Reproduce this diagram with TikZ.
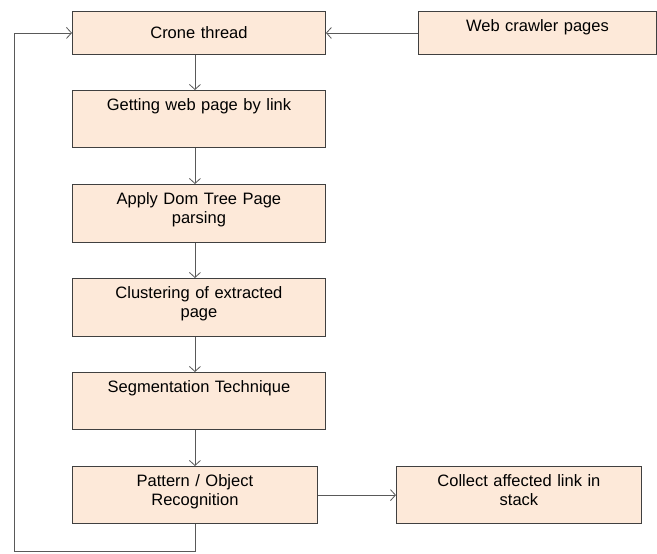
\documentclass[tikz,border=0pt]{standalone}
\usepackage{fontspec}
\setmainfont{Liberation Sans}
\usetikzlibrary{arrows.meta}
\definecolor{boxfill}{RGB}{253,233,217}
\definecolor{boxline}{RGB}{64,64,64}
\definecolor{conn}{RGB}{89,89,89}
\begin{document}
\begin{tikzpicture}[x=1pt,y=-1pt,
  box/.style={draw=boxline, line width=0.9pt, fill=boxfill, inner sep=0pt, anchor=north west,
    align=center, font=\fontsize{16.5}{19}\selectfont, text height=20pt},
  arr/.style={draw=conn, line width=0.8pt, -{Straight Barb[length=5pt,width=11pt,line width=0.8pt]}},
  ln/.style={draw=conn, line width=0.8pt}]
\useasboundingbox (0,0) rectangle (657,554);
\node[box, text width=253pt, text height=27.3pt, text depth=15.7pt] (crone) at (72,11) {Crone thread};
\node[box, text width=238pt, text depth=23pt] (web) at (418,11) {Web crawler pages};
\node[box, text width=253pt, text depth=37pt] (get) at (72,90) {Getting web page by link};
\node[box, text width=253pt, text depth=38pt] (apply) at (72,184) {Apply Dom Tree Page\\parsing};
\node[box, text width=253pt, text depth=38pt] (clust) at (72,278) {Clustering of extracted\\page};
\node[box, text width=253pt, text depth=37pt] (seg) at (72,372) {Segmentation Technique};
\node[box, text width=245pt, text depth=36.8pt, text height=20.5pt] (pat) at (72,466) {Pattern / Object\\Recognition};
\node[box, text width=245pt, text depth=36.8pt, text height=20.5pt] (coll) at (396,466) {Collect affected link in\\stack};
\coordinate (lb) at (14.5,551.5);
\draw[arr] (web.west) -- (crone.east);
\draw[arr] (crone.south -| pat.north) -- (get.north -| pat.north);
\draw[arr] (get.south -| pat.north) -- (apply.north -| pat.north);
\draw[arr] (apply.south -| pat.north) -- (clust.north -| pat.north);
\draw[arr] (clust.south -| pat.north) -- (seg.north -| pat.north);
\draw[arr] (seg.south -| pat.north) -- (pat.north);
\draw[arr] (pat.east) -- (coll.west);
\draw[arr] (pat.south) |- (lb) |- (crone.west);
\end{tikzpicture}
\end{document}
